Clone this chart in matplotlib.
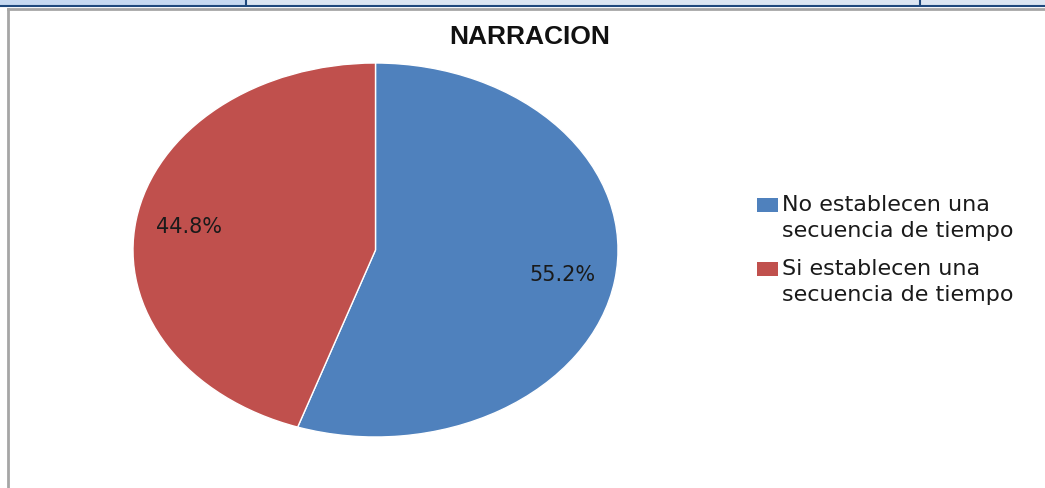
import matplotlib.pyplot as plt
from matplotlib.patches import Rectangle
from matplotlib.lines import Line2D

# data
title = 'NARRACION'
labels = ['No establecen una\nsecuencia de tiempo',
          'Si establecen una\nsecuencia de tiempo']
values = [55.2, 44.8]
colors = ['#4f81bd', '#c0504d']

W, H = 1045, 489


def fx(px):
    return px / W


def fy(py):
    return 1 - py / H


fig = plt.figure(figsize=(W / 100, H / 100), dpi=100)
fig.patch.set_facecolor('white')

# spreadsheet header strip above the chart
fig.add_artist(Rectangle((0, fy(6)), fx(246), 6 / H, transform=fig.transFigure,
                         facecolor='#c6d9f1', edgecolor='none'))
fig.add_artist(Rectangle((fx(246), fy(6)), 1 - fx(246), 6 / H, transform=fig.transFigure,
                         facecolor='#dce6f2', edgecolor='none'))
fig.add_artist(Line2D([0, 1], [fy(6.5), fy(6.5)], transform=fig.transFigure,
                      color='#1f497d', lw=1.5))
for xp in (246, 920):
    fig.add_artist(Line2D([fx(xp), fx(xp)], [1, fy(6)], transform=fig.transFigure,
                          color='#1f497d', lw=1.5))

# chart area border
fig.add_artist(Line2D([fx(8), 1], [fy(10), fy(10)], transform=fig.transFigure,
                      color='#a6a6a6', lw=2))
fig.add_artist(Line2D([fx(8), fx(8)], [0, fy(10)], transform=fig.transFigure,
                      color='#a6a6a6', lw=2))

# pie (elliptical, like the stretched screenshot)
ax = fig.add_axes([fx(133), fy(438), 485 / W, 374 / H])
wedges, texts, autotexts = ax.pie(values, colors=colors, startangle=90,
                                  counterclock=False, autopct='%1.1f%%',
                                  pctdistance=0.78,
                                  wedgeprops={'edgecolor': 'white', 'linewidth': 1},
                                  textprops={'fontsize': 15, 'color': '#1a1a1a',
                                             'family': 'DejaVu Sans'})
ax.set_aspect('auto')
ax.set_xlim(-1, 1)
ax.set_ylim(-1, 1)

fig.text(fx(530), fy(37), title, ha='center', va='center', fontsize=19,
         fontweight='bold', family='Liberation Sans', color='#111111')

# legend drawn by hand so the square sits on the first line
legend_y = [206, 270]
for lab, col, yp in zip(labels, colors, legend_y):
    fig.add_artist(Rectangle((fx(757), fy(yp + 7)), 21 / W, 14 / H,
                             transform=fig.transFigure, facecolor=col,
                             edgecolor='none'))
    fig.text(fx(782), fy(yp - 11), lab, ha='left', va='top', fontsize=16,
             family='DejaVu Sans', color='#1a1a1a', linespacing=1.38,
             transform=fig.transFigure)

fig.savefig('out.png', dpi=100)
